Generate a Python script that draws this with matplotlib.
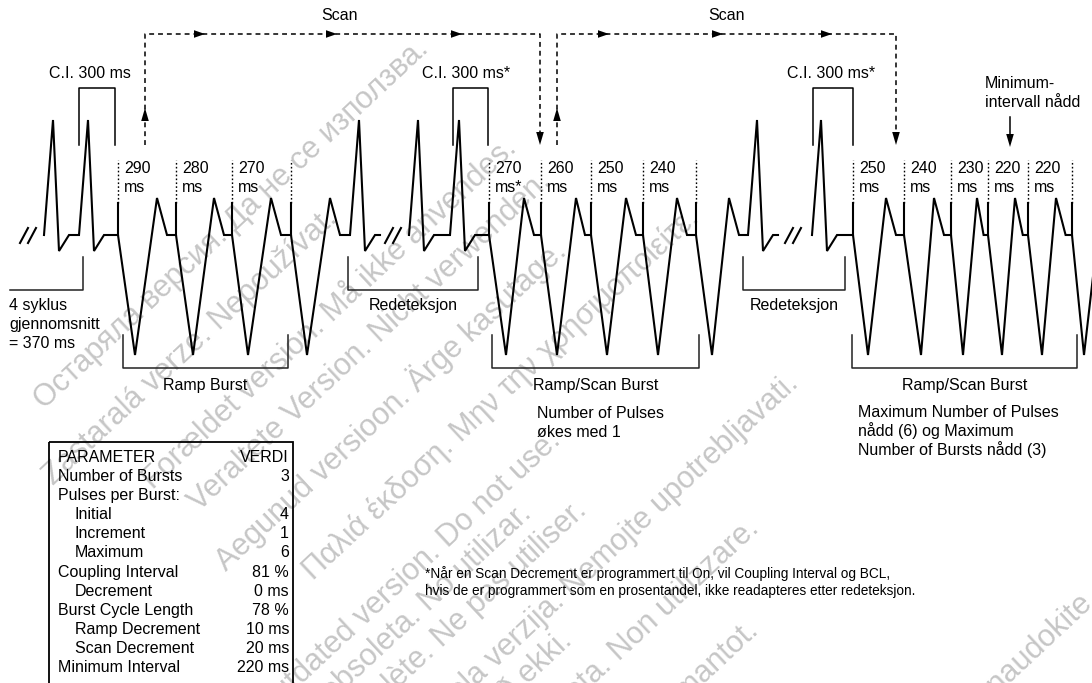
import matplotlib
matplotlib.use("Agg")
import matplotlib.pyplot as plt
from matplotlib.patches import Polygon, Rectangle
from matplotlib import font_manager

plt.rcParams['font.family'] = ['Liberation Sans', 'DejaVu Sans']

# --- schematic data (x = position on the time axis) ---
# intrinsic beats (R-wave peaks) before / after each burst
beats_before = [[53, 88], [418, 459], [821]]
beats_after = [[359], [757], []]
break_marks = [28, 393, 793]

# pacing pulses of each burst: spike, trough and T-peak positions
burst_spikes = [[118, 176, 232, 291],
                [489, 541, 591, 643, 696],
                [853, 904, 951, 988, 1028, 1072]]
burst_troughs = [[135, 193, 248, 307],
                 [506, 557, 607, 658, 712],
                 [868, 921, 963, 1002, 1042, 1084]]
burst_tpeaks = [[157, 214, 271, 330],
                [524, 576, 626, 677, 729],
                [886, 934, 977, 1015, 1056, 1102]]
burst_labels = [["290 ms", "280 ms", "270 ms"],
                ["270 ms*", "260 ms", "250 ms", "240 ms"],
                ["250 ms", "240 ms", "230 ms", "220 ms", "220 ms"]]

ci_labels = ["C.I. 300 ms", "C.I. 300 ms*", "C.I. 300 ms*"]
burst_names = ["Ramp Burst", "Ramp/Scan Burst", "Ramp/Scan Burst"]

param_names = ["Number of Bursts", "Pulses per Burst:", "Initial", "Increment",
               "Maximum", "Coupling Interval", "Decrement", "Burst Cycle Length",
               "Ramp Decrement", "Scan Decrement", "Minimum Interval"]
param_values = ["3", "", "4", "1", "6", "81 %", "0 ms", "78 %", "10 ms",
                "20 ms", "220 ms"]
param_indent = [0, 0, 1, 1, 1, 0, 1, 0, 1, 1, 0]

footnote = ["*Når en Scan Decrement er programmert til On, vil Coupling Interval og BCL,",
            "hvis de er programmert som en prosentandel, ikke readapteres etter redeteksjon."]

# watermark lines and where each one ends (right end of the baseline)
watermarks = [
    ("Остаряла версия. Да не се използва.", 430, 50),
    ("Zastaralá verze. Nepoužívat.", 338, 220),
    ("Forældet version. Må ikke anvendes.", 518, 150),
    ("Veraltete Version. Nicht verwenden.", 552, 183),
    ("Aegunud versioon. Ärge kasutage.", 568, 253),
    ("Παλιά έκδοση. Μην την χρησιμοποιείτε.", 700, 220),
    ("Outdated version. Do not use.", 562, 442),
    ("Versión obsoleta. No utilizar.", 533, 515),
    ("Version obsolète. Ne pas utiliser.", 588, 512),
    ("Zastarjela verzija. Nemojte upotrebljavati.", 800, 385),
    ("Úrelt útgáfa. Notið ekki.", 573, 642),
    ("Versione obsoleta. Non utilizzare.", 760, 530),
    ("Novecojusi versija. Neizmantot.", 760, 632),
    ("Pasenusi versija. Nenaudokite.", 1100, 600),
]

BASE, SPIKE, TROUGH, TPEAK, RPEAK, SWAVE = 235, 203, 355, 198, 120, 251
FS = 11.5

fig = plt.figure(figsize=(10.92, 6.83), dpi=100)
ax = fig.add_axes([0, 0, 1, 1])
ax.set_xlim(0, 1092)
ax.set_ylim(683, 0)
ax.axis('off')

# watermark
for txt, x, y in watermarks:
    ax.text(x, y, txt, rotation=43, rotation_mode='anchor', ha='right',
            va='baseline', fontsize=22, color='#c6c6c6', zorder=0)


def beat(xp):
    return [(xp - 9, BASE), (xp, RPEAK), (xp + 6, SWAVE), (xp + 16, BASE)]


def head(x, y, d, L=13, W=3.8):
    if d == 'up':
        pts = [(x, y), (x - W, y + L), (x + W, y + L)]
    elif d == 'down':
        pts = [(x, y), (x - W, y - L), (x + W, y - L)]
    else:
        pts = [(x, y), (x - L, y - W), (x - L, y + W)]
    ax.add_patch(Polygon(pts, closed=True, facecolor='black', edgecolor='none', zorder=3))


# ECG trace, one segment per burst
for i in range(3):
    pts = []
    for b in beats_before[i]:
        pts += beat(b)
    sp, tr, tp = burst_spikes[i], burst_troughs[i], burst_tpeaks[i]
    for k in range(len(sp)):
        nxt = sp[k + 1] if k + 1 < len(sp) else tp[k] + 25
        pts += [(sp[k], BASE), (tr[k], TROUGH), (tp[k], TPEAK),
                (tp[k] + min(10, 0.6 * (nxt - tp[k])), BASE)]
        ax.plot([sp[k], sp[k]], [BASE, SPIKE], color='black', lw=1.5)
        ax.plot([sp[k], sp[k]], [SPIKE, 160], color='black', lw=1.0,
                ls=(0, (1.2, 1.6)))
    for b in beats_after[i]:
        pts += beat(b)
        pts.append((b + 21, BASE))
    xs, ys = zip(*pts)
    ax.plot(xs, ys, color='black', lw=1.5, solid_joinstyle='miter')
    for k, lab in enumerate(burst_labels[i]):
        top, bottom = lab.split(' ')
        ax.text(sp[k] + 6, 173, top, fontsize=FS, ha='left', va='baseline')
        ax.text(sp[k] + 6, 192, bottom, fontsize=FS, ha='left', va='baseline')

# "//" break marks
for bx in break_marks:
    for off in (-4, 4):
        ax.plot([bx + off - 4, bx + off + 4], [243, 228], color='black', lw=1.5)

# coupling interval brackets
for (x0, x1), lab, tx in zip([(79, 115), (453, 488), (813, 853)], ci_labels, [90, 466, 831]):
    ax.plot([x0, x0, x1, x1], [145, 88, 88, 145], color='black', lw=1.1)
    ax.text(tx, 78, lab, fontsize=FS, ha='center', va='baseline')

# scan paths
dash = (0, (3.2, 2.6))
for (x0, x1), arr, sx in zip([(145, 540), (557, 896)],
                             [[205, 337, 462], [609, 723, 832]], [340, 727]):
    ax.plot([x0, x0, x1, x1], [145, 34, 34, 132], color='black', lw=1.1, ls=dash)
    head(x0, 108, 'up')
    head(x1, 145, 'down')
    for a in arr:
        head(a, 34, 'right', L=11, W=3.8)
    ax.text(sx, 20, "Scan", fontsize=FS, ha='center', va='baseline')

# minimum interval marker
ax.plot([1010, 1010], [117, 135], color='black', lw=1.1)
head(1010, 147, 'down')
ax.text(985, 88, "Minimum-", fontsize=FS, ha='left', va='baseline')
ax.text(985, 107, "intervall nådd", fontsize=FS, ha='left', va='baseline')

# lower brackets
ax.plot([10, 83, 83], [290, 290, 257], color='#222222', lw=1.1)
for j, s in enumerate(["4 syklus", "gjennomsnitt", "= 370 ms"]):
    ax.text(9, 310 + 19 * j, s, fontsize=FS, ha='left', va='baseline')
for x0, x1 in [(348, 478), (743, 845)]:
    ax.plot([x0, x0, x1, x1], [257, 290, 290, 257], color='#222222', lw=1.1)
    ax.text((x0 + x1) / 2, 310, "Redeteksjon", fontsize=FS, ha='center', va='baseline')
for (x0, x1), name in zip([(123, 288), (492, 699), (852, 1077)], burst_names):
    ax.plot([x0, x0, x1, x1], [335, 368, 368, 335], color='#222222', lw=1.1)
    ax.text((x0 + x1) / 2, 390, name, fontsize=FS, ha='center', va='baseline')

for j, s in enumerate(["Number of Pulses", "økes med 1"]):
    ax.text(537, 418 + 19 * j, s, fontsize=FS, ha='left', va='baseline')
for j, s in enumerate(["Maximum Number of Pulses", "nådd (6) og Maximum",
                       "Number of Bursts nådd (3)"]):
    ax.text(858, 417 + 19 * j, s, fontsize=FS, ha='left', va='baseline')

# footnote
names = {f.name for f in font_manager.fontManager.ttflist}
narrow = 'Liberation Sans Narrow' in names
for j, s in enumerate(footnote):
    ax.text(425, 578 + 17 * j, s, fontsize=11.2 if narrow else 9.8,
            family=['Liberation Sans Narrow' if narrow else 'Liberation Sans'],
            ha='left', va='baseline')

# parameter table
ax.add_patch(Rectangle((49, 442), 244, 260, fill=False, edgecolor='black', lw=1.3))
ax.text(58, 462, "PARAMETER", fontsize=FS, ha='left', va='baseline')
ax.text(289, 462, "VERDI", fontsize=FS, ha='right', va='baseline')
for j, (n, v, ind) in enumerate(zip(param_names, param_values, param_indent)):
    y = 462 + 19.09 * (j + 1)
    ax.text(58 + 17 * ind, y, n, fontsize=FS, ha='left', va='baseline')
    ax.text(289, y, v, fontsize=FS, ha='right', va='baseline')

fig.savefig("out.png", dpi=100)
